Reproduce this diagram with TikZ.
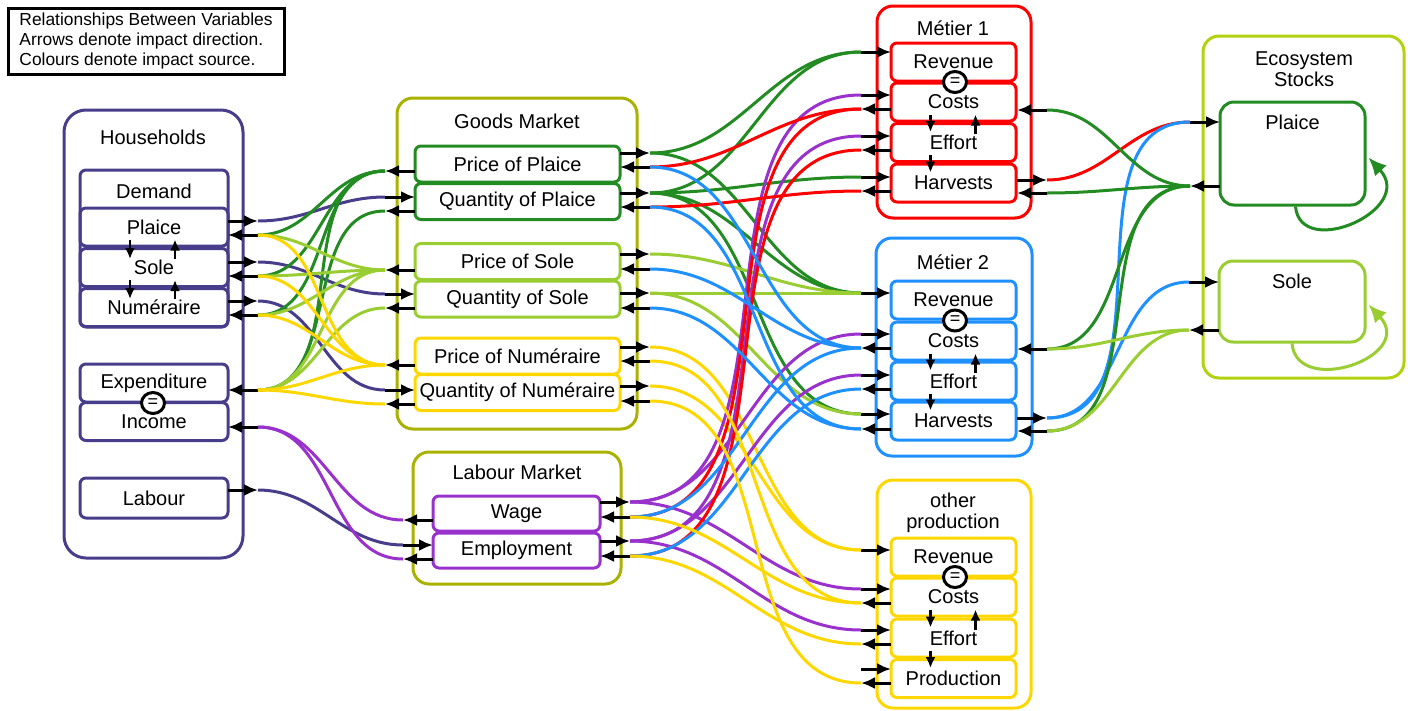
\documentclass[tikz,border=0pt]{standalone}
\usepackage{fontspec}
\setmainfont{Liberation Sans}
\usetikzlibrary{calc,arrows.meta,shapes.geometric}
\definecolor{hhcol}{RGB}{72,61,139}
\definecolor{mktcol}{RGB}{170,178,0}
\definecolor{plaicecol}{RGB}{34,139,34}
\definecolor{solecol}{RGB}{154,205,50}
\definecolor{numcol}{RGB}{255,215,0}
\definecolor{labcol}{RGB}{153,50,204}
\definecolor{m1col}{RGB}{255,0,0}
\definecolor{m2col}{RGB}{30,144,255}
\definecolor{ecocol}{RGB}{178,210,16}

\begin{document}
\begin{tikzpicture}[x=1pt,y=-1pt,
	every node/.style={font=\fontsize{20}{21}\selectfont},
	panel/.style={draw=#1,line width=3pt,rounded corners=16pt,inner sep=0pt},
	cell/.style={draw=#1,line width=3pt,rounded corners=6pt,inner sep=0pt},
	link/.style={line width=3pt,draw=#1},
	tor/.style={out=0,in=180},
	tol/.style={out=180,in=0},
	stub/.style={line width=3pt,-{Latex[length=14pt,width=12pt]}},
	flow/.style={line width=2.5pt,-{Latex[length=11pt,width=10pt]}},
	eqsign/.style={draw,ellipse,line width=3pt,fill=white,inner sep=0pt,minimum width=23pt,minimum height=21pt,font=\fontsize{18}{18}\selectfont}]
	\useasboundingbox (0,0) rectangle (1408,710);
	
	% legend
	\node[draw,line width=3pt,minimum width=276pt,minimum height=66pt,align=left,font=\fontsize{17.4}{20}\selectfont] (legend) at (146,41) {Relationships Between Variables\\Arrows denote impact direction.\\Colours denote impact source.};
	
	% households
	\node[panel=hhcol,rounded corners=22pt,minimum width=179pt,minimum height=448pt] (hh) at (153.5,334) {};
	\node (hhT) at (153,137) {Households};
	\node[cell=hhcol,minimum width=148pt,minimum height=157pt] (dem) at (154,248.5) {};
	\node (demT) at (154,191) {Demand};
	\node[cell=hhcol,minimum width=148pt,minimum height=38pt] (hP) at (154,227) {Plaice};
	\node[cell=hhcol,minimum width=148pt,minimum height=38pt] (hS) at (154,267.5) {Sole};
	\node[cell=hhcol,minimum width=148pt,minimum height=38pt] (hN) at (154,307.5) {Numéraire};
	\node[cell=hhcol,minimum width=148pt,minimum height=38pt] (hE) at (154,383) {Expenditure};
	\node[cell=hhcol,minimum width=148pt,minimum height=38pt] (hI) at (154,421.5) {Income};
	\node[cell=hhcol,minimum width=148pt,minimum height=40pt] (hL) at (154,498) {Labour};
	\node[eqsign] (eqH) at (153,403) {=};
	\draw[flow] ($(hP.south)+(-24,-8)$) -- ($(hS.north)+(-24,12)$);
	\draw[flow] ($(hS.north)+(21,12)$) -- ($(hP.south)+(21,-8)$);
	\draw[flow] ($(hS.south)+(-24,-8)$) -- ($(hN.north)+(-24,12)$);
	\draw[flow] ($(hN.north)+(21,12)$) -- ($(hS.south)+(21,-8)$);
	
	% goods market
	\node[panel=mktcol,minimum width=240pt,minimum height=331pt] (gm) at (517,263.5) {};
	\node (gmT) at (517,121) {Goods Market};
	\node[cell=plaicecol,minimum width=205pt,minimum height=36pt] (pp) at (517.5,164) {Price of Plaice};
	\node[cell=plaicecol,minimum width=205pt,minimum height=36pt] (qp) at (517.5,201.5) {Quantity of Plaice};
	\node[cell=solecol,minimum width=205pt,minimum height=36pt] (ps) at (517.5,261.5) {Price of Sole};
	\node[cell=solecol,minimum width=205pt,minimum height=36pt] (qs) at (517.5,299) {Quantity of Sole};
	\node[cell=numcol,minimum width=205pt,minimum height=36pt] (pn) at (517.5,356) {Price of Numéraire};
	\node[cell=numcol,minimum width=205pt,minimum height=36pt] (qn) at (517.5,392.5) {Quantity of Numéraire};
	
	% labour market
	\node[panel=mktcol,minimum width=208pt,minimum height=132pt] (lm) at (517,518) {};
	\node (lmT) at (517,472) {Labour Market};
	\node[cell=labcol,minimum width=167pt,minimum height=35pt] (wg) at (516.5,513.5) {Wage};
	\node[cell=labcol,minimum width=167pt,minimum height=35pt] (em) at (516.5,550.5) {Employment};
	
	% metier 1
	\node[panel=m1col,minimum width=154pt,minimum height=212pt] (m1) at (954,112) {};
	\node (m1T) at (953,28) {Métier 1};
	\node[cell=m1col,minimum width=125pt,minimum height=38pt] (m1R) at (953.5,62) {Revenue};
	\node[cell=m1col,minimum width=125pt,minimum height=38pt] (m1C) at (953.5,102) {Costs};
	\node[cell=m1col,minimum width=125pt,minimum height=38pt] (m1E) at (953.5,142.5) {Effort};
	\node[cell=m1col,minimum width=125pt,minimum height=38pt] (m1H) at (953.5,183) {Harvests};
	\node[eqsign] (eq1) at (955,82) {=};
	\draw[flow] ($(m1C.south)+(-23,-8)$) -- ($(m1E.north)+(-23,10)$);
	\draw[flow] ($(m1E.north)+(22,12)$) -- ($(m1C.south)+(22,-8)$);
	\draw[flow] ($(m1E.south)+(-23,-8)$) -- ($(m1H.north)+(-23,10)$);
	
	% metier 2
	\node[panel=m2col,minimum width=156pt,minimum height=218pt] (m2) at (954,347) {};
	\node (m2T) at (953,262) {Métier 2};
	\node[cell=m2col,minimum width=125pt,minimum height=38pt] (m2R) at (953.5,300) {Revenue};
	\node[cell=m2col,minimum width=125pt,minimum height=38pt] (m2C) at (953.5,341) {Costs};
	\node[cell=m2col,minimum width=125pt,minimum height=38pt] (m2E) at (953.5,381) {Effort};
	\node[cell=m2col,minimum width=125pt,minimum height=38pt] (m2H) at (953.5,421) {Harvests};
	\node[eqsign] (eq2) at (955,320.5) {=};
	\draw[flow] ($(m2C.south)+(-23,-8)$) -- ($(m2E.north)+(-23,10)$);
	\draw[flow] ($(m2E.north)+(22,12)$) -- ($(m2C.south)+(22,-8)$);
	\draw[flow] ($(m2E.south)+(-23,-8)$) -- ($(m2H.north)+(-23,10)$);
	
	% other production
	\node[panel=numcol,minimum width=154pt,minimum height=228pt] (op) at (954,594) {};
	\node[align=center] (opT) at (953,512.5) {other\\production};
	\node[cell=numcol,minimum width=125pt,minimum height=38pt] (opR) at (953.5,557) {Revenue};
	\node[cell=numcol,minimum width=125pt,minimum height=38pt] (opC) at (953.5,597) {Costs};
	\node[cell=numcol,minimum width=125pt,minimum height=38pt] (opE) at (953.5,638) {Effort};
	\node[cell=numcol,minimum width=125pt,minimum height=38pt] (opP) at (953.5,678.5) {Production};
	\node[eqsign] (eq3) at (955,577) {=};
	\draw[flow] ($(opC.south)+(-23,-8)$) -- ($(opE.north)+(-23,10)$);
	\draw[flow] ($(opE.north)+(22,12)$) -- ($(opC.south)+(22,-8)$);
	\draw[flow] ($(opE.south)+(-23,-8)$) -- ($(opP.north)+(-23,10)$);
	
	% ecosystem
	\node[panel=ecocol,minimum width=201pt,minimum height=342pt] (eco) at (1303.5,207) {};
	\node[align=center] (ecoT) at (1304,69.5) {Ecosystem\\Stocks};
	\node[cell=plaicecol,rounded corners=14pt,minimum width=145pt,minimum height=103pt] (eP) at (1292.5,153.5) {};
	\node (ePT) at ($(eP.north)+(0,22)$) {Plaice};
	\node[cell=solecol,rounded corners=14pt,minimum width=146pt,minimum height=81pt] (eS) at (1292,301.5) {};
	\node (eST) at ($(eS.north)+(0,22)$) {Sole};
	\draw[line width=3pt,plaicecol,-{Latex[length=18pt,width=16pt]}] ($(eP.south)+(3,0)$) .. controls +(5,54) and +(48,52) .. ($(eP.east)+(2,4)$);
	\draw[line width=3pt,solecol,-{Latex[length=18pt,width=16pt]}] (eS.south) .. controls +(5,54) and +(48,52) .. ($(eS.east)+(2,3)$);
	
	% ports: out
	\foreach \port/\xe/\xo/\yy in {hPo/228/258/221,hSo/228/258/262,hNo/228/258/301,hLo/228/258/490,
		ppLo/415/385/171,qpLo/415/385/211,psLo/415/385/270,qsLo/415/385/308,pnLo/415/385/365,qnLo/415/385/404,
		ppRo/620/650/153,qpRo/620/650/193,psRo/620/650/254,qsRo/620/650/293,pnRo/620/650/347,qnRo/620/650/386,
		wLo/433/403/520,eLo/433/403/559,wRo/600/630/502,eRo/600/630/541,
		m1Co/891/861/109,m1Eo/891/861/150,m1Ho/891/861/191,m1HRo/1017/1047/180,
		m2Co/891/861/348,m2Eo/891/861/389,m2Ho/891/861/429,m2HRo/1017/1047/418,
		opCo/891/861/603,opEo/891/861/644,opPo/891/861/683,
		ePo/1220/1190/186,eSo/1219/1189/330}{
		\coordinate (\port) at (\xo,\yy);
		\draw[stub] (\xe,\yy) -- (\port);
	}
	% ports: in
	\foreach \port/\xe/\xo/\yy in {hPi/228/258/235,hSi/228/258/276,hNi/228/258/315,hEi/228/258/390,hIi/228/258/427,
		qpLi/415/385/197,qsLi/415/385/294,qnLi/415/385/390,
		ppRi/620/650/167,qpRi/620/650/207,psRi/620/650/269,qsRi/620/650/308,pnRi/620/650/361,qnRi/620/650/401,
		eLi/433/403/545,wRi/600/630/517,eRi/600/630/556,
		m1Ri/891/861/52,m1Ci/891/861/95,m1Ei/891/861/136,m1Hi/891/861/177,m1CRi/1017/1047/110,m1HRi/1017/1047/193,
		m2Ri/891/861/293,m2Ci/891/861/334,m2Ei/891/861/375,m2Hi/891/861/414,m2CRi/1017/1047/349,m2HRi/1017/1047/431,
		opRi/891/861/550,opCi/891/861/589,opEi/891/861/630,opPi/891/861/669,
		ePi/1220/1190/122,eSi/1219/1189/282}{
		\coordinate (\port) at (\xo,\yy);
		\draw[stub] (\port) -- (\xe,\yy);
	}
	
	% households -> markets
	\draw[link=hhcol] (hPo) to[tor] (qpLi);
	\draw[link=hhcol] (hSo) to[tor] (qsLi);
	\draw[link=hhcol] (hNo) to[tor] (qnLi);
	\draw[link=hhcol] (hLo) to[tor] (eLi);
	
	% goods market -> households
	\draw[link=plaicecol] (ppLo) to[tol] (hPi);
	\draw[link=plaicecol] (ppLo) to[tol] (hSi);
	\draw[link=plaicecol] (ppLo) to[tol] (hNi);
	\draw[link=plaicecol] (ppLo) to[tol] (hEi);
	\draw[link=plaicecol] (qpLo) to[tol] (hEi);
	\draw[link=solecol] (psLo) to[tol] (hPi);
	\draw[link=solecol] (psLo) to[tol] (hSi);
	\draw[link=solecol] (psLo) to[tol] (hNi);
	\draw[link=solecol] (psLo) to[tol] (hEi);
	\draw[link=solecol] (qsLo) to[tol] (hEi);
	\draw[link=numcol] (pnLo) to[tol] (hPi);
	\draw[link=numcol] (pnLo) to[tol] (hSi);
	\draw[link=numcol] (pnLo) to[tol] (hNi);
	\draw[link=numcol] (pnLo) to[tol] (hEi);
	\draw[link=numcol] (qnLo) to[tol] (hEi);
	
	% labour market -> households
	\draw[link=labcol] (wLo) to[tol] (hIi);
	\draw[link=labcol] (eLo) to[tol] (hIi);
	
	% goods market -> producers
	\draw[link=plaicecol] (ppRo) to[tor] (m1Ri);
	\draw[link=plaicecol] (ppRo) to[tor] (m2Ri);
	\draw[link=plaicecol] (qpRo) to[tor] (m1Ri);
	\draw[link=plaicecol] (qpRo) to[tor] (m1Hi);
	\draw[link=plaicecol] (qpRo) to[tor] (m2Ri);
	\draw[link=plaicecol] (qpRo) to[tor] (m2Hi);
	\draw[link=solecol] (psRo) to[tor] (m2Ri);
	\draw[link=solecol] (qsRo) to[tor] (m2Ri);
	\draw[link=solecol] (qsRo) to[tor] (m2Hi);
	\draw[link=numcol] (pnRo) to[tor] (opRi);
	\draw[link=numcol] (qnRo) to[tor] (opRi);
	
	% labour market -> producers
	\draw[link=labcol] (wRo) to[tor] (m1Ci);
	\draw[link=labcol] (wRo) to[tor] (m2Ci);
	\draw[link=labcol] (wRo) to[tor] (opCi);
	\draw[link=labcol] (eRo) to[tor] (m1Ei);
	\draw[link=labcol] (eRo) to[tor] (m2Ei);
	\draw[link=labcol] (eRo) to[tor] (opEi);
	
	% producers -> markets
	\draw[link=m1col] (m1Co) to[tol] (ppRi);
	\draw[link=m1col] (m1Co) to[tol] (wRi);
	\draw[link=m1col] (m1Eo) to[tol] (eRi);
	\draw[link=m1col] (m1Ho) to[tol] (qpRi);
	\draw[link=m2col] (m2Co) to[tol] (ppRi);
	\draw[link=m2col] (m2Co) to[tol] (psRi);
	\draw[link=m2col] (m2Co) to[tol] (wRi);
	\draw[link=m2col] (m2Eo) to[tol] (eRi);
	\draw[link=m2col] (m2Ho) to[tol] (qpRi);
	\draw[link=m2col] (m2Ho) to[tol] (qsRi);
	\draw[link=numcol] (opCo) to[tol] (pnRi);
	\draw[link=numcol] (opCo) to[tol] (wRi);
	\draw[link=numcol] (opEo) to[tol] (eRi);
	\draw[link=numcol] (opPo) to[tol] (qnRi);
	
	% metiers <-> stocks
	\draw[link=m1col] (m1HRo) to[tor] (ePi);
	\draw[link=m2col] (m2HRo) to[tor] (ePi);
	\draw[link=m2col] (m2HRo) to[tor] (eSi);
	\draw[link=plaicecol] (ePo) to[tol] (m1CRi);
	\draw[link=plaicecol] (ePo) to[tol] (m1HRi);
	\draw[link=plaicecol] (ePo) to[tol] (m2CRi);
	\draw[link=plaicecol] (ePo) to[tol] (m2HRi);
	\draw[link=solecol] (eSo) to[tol] (m2CRi);
	\draw[link=solecol] (eSo) to[tol] (m2HRi);
\end{tikzpicture}
\end{document}
